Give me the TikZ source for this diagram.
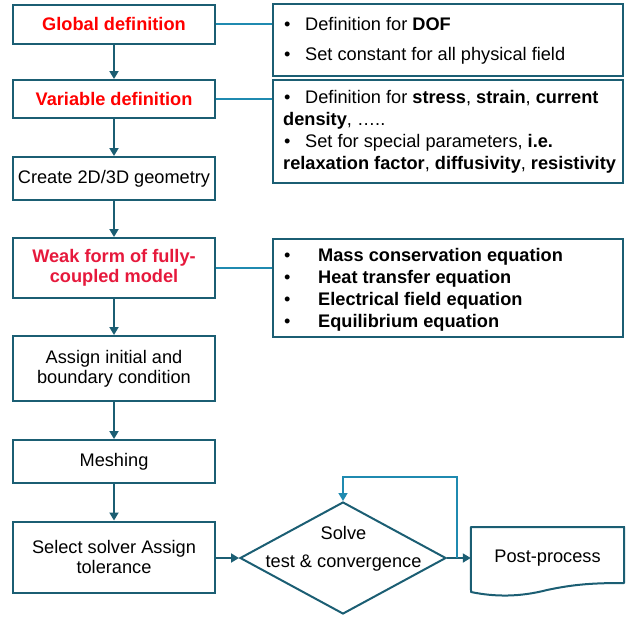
\documentclass[tikz,border=0pt]{standalone}
\usepackage{fontspec}
\setmainfont{Liberation Sans}
\usetikzlibrary{shapes.geometric,arrows.meta,calc}
\definecolor{boxc}{RGB}{27,94,115}
\definecolor{linec}{RGB}{31,138,176}
\definecolor{redA}{RGB}{255,0,0}
\definecolor{redB}{RGB}{230,25,60}
\begin{document}
\begin{tikzpicture}[x=1pt,y=-1pt,
 flow/.style={draw=boxc,line width=2pt,minimum width=202pt,inner sep=0pt,align=center,font=\fontsize{18.2}{20}\selectfont},
 side/.style={draw=boxc,line width=2pt,minimum width=350pt,inner sep=0pt},
 txt/.style={anchor=base west,inner sep=0pt,font=\fontsize{18.2}{20}\selectfont},
 lbl/.style={inner sep=0pt,font=\fontsize{18.2}{20}\selectfont},
 arr/.style={draw=boxc,line width=1.8pt,-{Triangle[length=8pt,width=9pt]}},
 conn/.style={draw=linec,line width=1.6pt},
]
\useasboundingbox (0,0) rectangle (629,616);
% flow boxes
\node[flow,minimum height=39pt,text=redA,font=\fontsize{18.2}{20}\selectfont\bfseries] (glob) at (114,24) {Global definition};
\node[flow,minimum height=38pt,text=redA,font=\fontsize{18.2}{20}\selectfont\bfseries] (var) at (114,99) {Variable definition};
\node[flow,minimum height=43pt] (geo) at (114,178.5) {Create 2D/3D geometry};
\node[flow,minimum height=60pt,text=redB,font=\fontsize{18.2}{20}\selectfont\bfseries] (weak) at (114,268) {Weak form of fully-\\coupled model};
\node[flow,minimum height=65pt] (init) at (114,368.5) {Assign initial and\\boundary condition};
\node[flow,minimum height=43pt] (mesh) at (114,461.5) {Meshing};
\node[flow,minimum height=71pt] (sel) at (114,557) {Select solver Assign\\tolerance};
% diamond
\node[diamond,draw=boxc,line width=2pt,minimum width=206pt,minimum height=112pt,inner sep=0pt] (dia) at (343,558) {};
\node[lbl] (dtop) at (343.5,533) {Solve};
\node[lbl] (dbot) at (343.5,563) {test \& convergence};
% post-process
\node[lbl,minimum width=153pt,minimum height=60pt] (post) at (547.5,558) {Post-process};
\draw[boxc,line width=2pt,line join=round] (post.north west |- 0,527) -- (post.north east |- 0,527) -- (624,583)
  .. controls (595,583) and (575,584) .. (547,590)
  .. controls (520,597) and (495,597) .. (471,592) -- cycle;
% side boxes
\node[side,minimum height=72pt] (r1) at (448,40) {};
\node[side,minimum height=103pt] (r2) at (448,131.5) {};
\node[side,minimum height=98pt] (r3) at (448,288) {};
% side texts
\node[txt] (t11) at (283,30.5) {\makebox[22pt][l]{\hspace{1pt}•}Definition for \textbf{DOF}};
\node[txt] (t12) at (283,60.5) {\makebox[22pt][l]{\hspace{1pt}•}Set constant for all physical field};
\node[txt] (t21) at (283,103.5) {\makebox[22pt][l]{\hspace{1pt}•}Definition for \textbf{stress}, \textbf{strain}, \textbf{current}};
\node[txt] (t22) at (283,125.5) {\textbf{density}, …..};
\node[txt] (t23) at (283,147.5) {\makebox[22pt][l]{\hspace{1pt}•}Set for special parameters, \textbf{i.e.}};
\node[txt] (t24) at (283,169.5) {\textbf{relaxation factor}, \textbf{diffusivity}, \textbf{resistivity}};
\node[txt] (t31) at (283,261.5) {\makebox[35pt][l]{\hspace{1pt}•}\textbf{Mass conservation equation}};
\node[txt] (t32) at (283,283.5) {\makebox[35pt][l]{\hspace{1pt}•}\textbf{Heat transfer equation}};
\node[txt] (t33) at (283,305.5) {\makebox[35pt][l]{\hspace{1pt}•}\textbf{Electrical field equation}};
\node[txt] (t34) at (283,327.5) {\makebox[35pt][l]{\hspace{1pt}•}\textbf{Equilibrium equation}};
% connectors
\draw[conn] (glob.east) -- (glob.east -| r1.west);
\draw[conn] (var.east) -- (var.east -| r2.west);
\draw[conn] (weak.east) -- (weak.east -| r3.west);
\draw[arr] (glob) -- (var);
\draw[arr] (var) -- (geo);
\draw[arr] (geo) -- (weak);
\draw[arr] (weak) -- (init);
\draw[arr] (init) -- (mesh);
\draw[arr] (mesh) -- (sel);
\draw[arr] (sel.east |- dia.west) -- (dia.west);
\draw[arr] (dia.east) -- (dia.east -| post.west);
\coordinate (lp) at (457,558);
\coordinate (lt) at (457,477);
\draw[conn,-{Triangle[length=8pt,width=9pt]}] (lp) -- (lt) -| (dia.north);
\end{tikzpicture}
\end{document}
